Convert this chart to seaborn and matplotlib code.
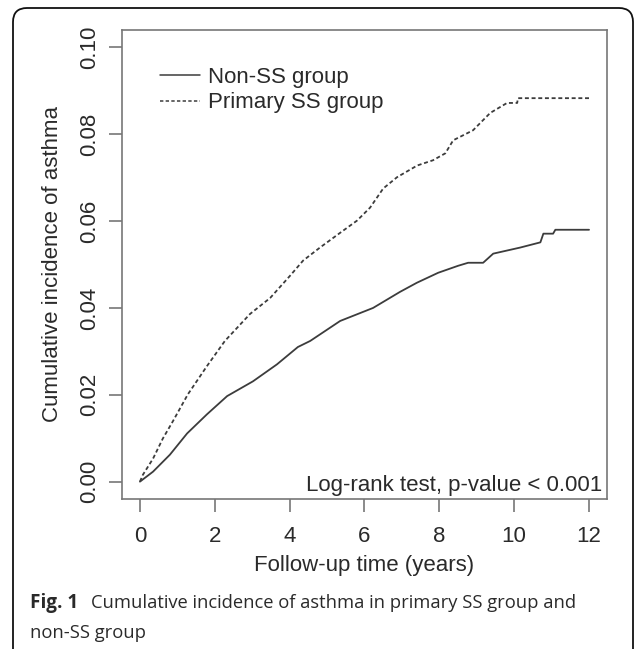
import matplotlib
matplotlib.use("Agg")
import matplotlib.pyplot as plt
from matplotlib.patches import FancyBboxPatch
from matplotlib.transforms import IdentityTransform
import pandas as pd
import seaborn as sns

sns.set_style("white")
plt.rcParams['font.family'] = ['Liberation Sans', 'DejaVu Sans']

# curves (years, cumulative incidence)
non_ss_t = [0, 0.35, 0.8, 1.26, 1.79, 2.33, 3.02, 3.66, 4.22, 4.55, 5.35, 6.23, 6.95,
            7.4, 7.97, 8.5, 8.77, 9.17, 9.44, 10.16, 10.7, 10.78, 11.04, 11.1, 12.0]
non_ss_v = [0, 0.0023, 0.0062, 0.0111, 0.0155, 0.0197, 0.0231, 0.0270, 0.0310, 0.0324,
            0.0370, 0.0400, 0.0437, 0.0458, 0.0481, 0.0497, 0.0504, 0.0504, 0.0525,
            0.0539, 0.0551, 0.0571, 0.0571, 0.0580, 0.0580]

pss_t = [0, 0.08, 0.35, 0.61, 0.88, 1.28, 1.79, 2.27, 2.94, 3.48, 4.01, 4.36, 4.81, 5.35,
         5.8, 6.15, 6.5, 6.87, 7.41, 7.83, 8.16, 8.37, 8.9, 9.36, 9.81, 10.08, 10.1, 12.0]
pss_v = [0, 0.0016, 0.0053, 0.0099, 0.0139, 0.0201, 0.0266, 0.0324, 0.0386, 0.0423,
         0.0474, 0.0509, 0.0539, 0.0573, 0.0601, 0.0631, 0.0675, 0.0701, 0.0728, 0.0740,
         0.0756, 0.0786, 0.0809, 0.0849, 0.0872, 0.0872, 0.0883, 0.0883]

x_ticks = [0, 2, 4, 6, 8, 10, 12]
y_ticks = [0.00, 0.02, 0.04, 0.06, 0.08, 0.10]

df1 = pd.DataFrame({'t': non_ss_t, 'v': non_ss_v})
df2 = pd.DataFrame({'t': pss_t, 'v': pss_v})

fig = plt.figure(figsize=(6.34, 6.49), dpi=100)
ax = fig.add_axes([0.1924, 0.2311, 0.765, 0.7227])

line_col = '#3c3c3c'
txt_col = '#2a2a2a'
sns.lineplot(data=df1, x='t', y='v', ax=ax, estimator=None, sort=False,
             color=line_col, lw=1.3, label='Non-SS group')
sns.lineplot(data=df2, x='t', y='v', ax=ax, estimator=None, sort=False,
             color=line_col, lw=1.3, dashes=False, label='Primary SS group')
ax.lines[1].set_dashes((2.2, 1.5))

ax.set_xlim(-0.48, 12.48)
ax.set_ylim(-0.004, 0.104)
ax.set_xticks(x_ticks)
ax.set_xticklabels([str(t) for t in x_ticks])
ax.set_yticks(y_ticks)
ax.set_yticklabels(['%.2f' % v for v in y_ticks], rotation=90, va='center')

box_col = '#777777'
for s in ax.spines.values():
    s.set_color(box_col)
    s.set_linewidth(1.2)
ax.tick_params(axis='both', direction='out', length=9.5, width=1.2, color=box_col,
               labelsize=16, labelcolor=txt_col)
ax.tick_params(axis='x', pad=10)
ax.tick_params(axis='y', pad=6)
ax.tick_params(bottom=True, left=True)

ax.set_xlabel('Follow-up time (years)', fontsize=16, color=txt_col, labelpad=6)
ax.set_ylabel('Cumulative incidence of asthma', fontsize=16, color=txt_col, labelpad=11.5)

leg = ax.legend(loc='upper left', bbox_to_anchor=(0.079, 0.922), frameon=False,
                fontsize=16, handlelength=1.8, handletextpad=0.36, labelspacing=0.22,
                borderpad=0, borderaxespad=0)
for txt in leg.get_texts():
    txt.set_color(txt_col)
for h in leg.legend_handles:
    h.set_linewidth(1.1)

ax.text(0.99, 0.006, 'Log-rank test, p-value < 0.001', transform=ax.transAxes,
        ha='right', va='bottom', fontsize=16, color=txt_col)

# caption under the chart
cap_font = ['Open Sans', 'DejaVu Sans']
fig.text(30 / 634, 1 - 603 / 649, 'Fig. 1', fontsize=13.6, fontweight='bold',
         family=cap_font, color=txt_col, va='center')
fig.text(91 / 634, 1 - 603 / 649, 'Cumulative incidence of asthma in primary SS group and',
         fontsize=13.2, family=cap_font, color=txt_col, va='center')
fig.text(30 / 634, 1 - 633 / 649, 'non-SS group',
         fontsize=13.2, family=cap_font, color=txt_col, va='center')

# rounded outer frame
frame = FancyBboxPatch((13, -30), 620, 641 + 30, boxstyle='round,pad=0,rounding_size=14',
                       transform=IdentityTransform(), fill=False, edgecolor='#111111',
                       lw=1.3, clip_on=False)
fig.patches.append(frame)

fig.savefig('out.png', dpi=100)
